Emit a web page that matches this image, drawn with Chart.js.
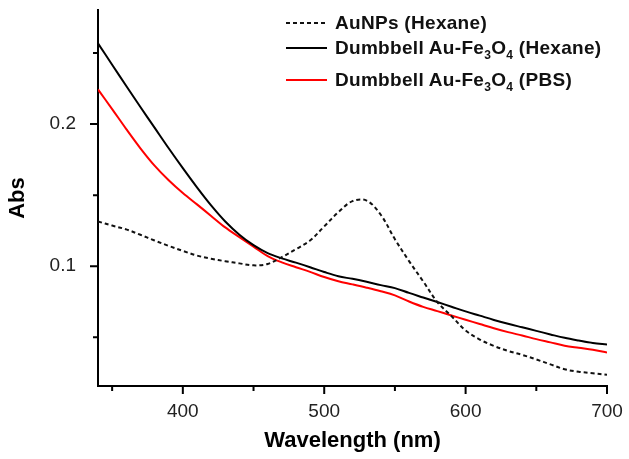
<!DOCTYPE html>
<html>
<head>
<meta charset="utf-8">
<script src="https://cdn.jsdelivr.net/npm/chart.js@4.4.0/dist/chart.umd.min.js"></script>
<style>
  body { margin: 0; background: #fff; }
  #wrap { position: relative; width: 629px; height: 459px; }
  .leg-row {
    position: absolute; left: 286px; height: 24px;
    display: flex; align-items: center;
    font: bold 19px "Liberation Sans", Arial, sans-serif; color: #111;
    letter-spacing: 0.3px; white-space: nowrap;
  }
  .leg-row svg { margin-right: 8px; }
  .leg-row sub { font-size: 12px; vertical-align: -5px; line-height: 0; }
</style>
</head>
<body>
<div id="wrap">
  <canvas id="absChart"></canvas>
  <div id="legend"></div>
</div>
<script>
// UV-vis spectra (nm vs Abs)
const wavelengths = [340, 350, 360, 370, 380, 390, 400, 410, 420, 430, 440, 450, 460, 470, 480, 490, 500, 510,
    520, 530, 540, 550, 560, 570, 580, 590, 600, 610, 620, 630, 640, 650, 660, 670, 680, 690, 700];

const auNPsHexane = [0.1315, 0.1286, 0.1259, 0.1221, 0.1181, 0.1143, 0.1108, 0.1075, 0.1053, 0.1035, 0.1020,
    0.1006, 0.1016, 0.1064, 0.1120, 0.1181, 0.1280, 0.1380, 0.1458, 0.1462, 0.1362, 0.1190, 0.1036, 0.0893,
    0.0748, 0.0649, 0.0548, 0.0484, 0.0439, 0.0404, 0.0376, 0.0344, 0.0309, 0.0275, 0.0257, 0.0247, 0.0236];

const dumbbellHexane = [0.2568, 0.2418, 0.2268, 0.2120, 0.1975, 0.1830, 0.1690, 0.1555, 0.1428, 0.1315, 0.1222,
    0.1148, 0.1092, 0.1055, 0.1025, 0.0993, 0.0959, 0.0929, 0.0911, 0.0890, 0.0867, 0.0846, 0.0812, 0.0780,
    0.0748, 0.0715, 0.0682, 0.0652, 0.0622, 0.0595, 0.0570, 0.0545, 0.0520, 0.0496, 0.0477, 0.0460, 0.0449];

const dumbbellPBS = [0.2244, 0.2106, 0.1965, 0.1830, 0.1708, 0.1605, 0.1515, 0.1435, 0.1354, 0.1273, 0.1205,
    0.1138, 0.1071, 0.1027, 0.0993, 0.0960, 0.0924, 0.0894, 0.0872, 0.0849, 0.0824, 0.0795, 0.0752, 0.0714,
    0.0684, 0.0653, 0.0623, 0.0593, 0.0563, 0.0536, 0.0512, 0.0487, 0.0464, 0.0441, 0.0426, 0.0412, 0.0392];

const seriesNames = ['AuNPs (Hexane)', 'Dumbbell Au-Fe3O4 (Hexane)', 'Dumbbell Au-Fe3O4 (PBS)'];
const legendHtml = ['AuNPs (Hexane)',
    'Dumbbell Au-Fe<sub>3</sub>O<sub>4</sub> (Hexane)',
    'Dumbbell Au-Fe<sub>3</sub>O<sub>4</sub> (PBS)'];

const xTicks = [350, 400, 450, 500, 550, 600, 650, 700];
const xLabels = [400, 500, 600, 700];
const yTicks = [0.05, 0.1, 0.15, 0.2, 0.25];
const yLabels = [0.1, 0.2];

const FONT = '"Liberation Sans", Arial, sans-serif';

// Origin style ticks: long major, short minor, pointing out
const tickMarks = {
    id: 'tickMarks',
    afterDraw(chart) {
        const {ctx, chartArea, scales: {x, y}} = chart;
        ctx.save();
        ctx.strokeStyle = '#000';
        ctx.lineWidth = 2;
        ctx.beginPath();
        x.ticks.forEach(t => {
            const px = x.getPixelForValue(t.value);
            const len = xLabels.includes(t.value) ? 8 : 5;
            ctx.moveTo(px, chartArea.bottom);
            ctx.lineTo(px, chartArea.bottom + len);
        });
        y.ticks.forEach(t => {
            const py = y.getPixelForValue(t.value);
            const len = yLabels.includes(t.value) ? 8 : 5;
            ctx.moveTo(chartArea.left, py);
            ctx.lineTo(chartArea.left - len, py);
        });
        ctx.stroke();
        ctx.restore();
    }
};

const ctx = document.getElementById('absChart').getContext('2d');
const absChart = new Chart(ctx, {
    type: 'line',
    data: {
        labels: wavelengths,
        datasets: [
            {
                label: seriesNames[0],
                data: auNPsHexane,
                borderColor: '#111',
                borderWidth: 2,
                borderDash: [4, 3],
                pointRadius: 0,
                tension: 0.35
            },
            {
                label: seriesNames[1],
                data: dumbbellHexane,
                borderColor: '#000',
                borderWidth: 2,
                pointRadius: 0,
                tension: 0.35
            },
            {
                label: seriesNames[2],
                data: dumbbellPBS,
                borderColor: '#ff0000',
                borderWidth: 2,
                pointRadius: 0,
                tension: 0.35
            }
        ]
    },
    options: {
        responsive: true,
        maintainAspectRatio: false,
        animation: false,
        layout: { padding: { left: 0, top: 10, right: 22, bottom: 0 } },
        scales: {
            x: {
                type: 'linear',
                min: 340,
                max: 700,
                afterBuildTicks: s => { s.ticks = xTicks.map(v => ({ value: v })); },
                afterFit: s => { s.height = 73; s.paddingLeft = 0; s.paddingRight = 0; },
                grid: { display: false },
                border: { display: true, color: '#000', width: 2 },
                ticks: {
                    color: '#222',
                    padding: 6,
                    maxRotation: 0,
                    font: { family: FONT, size: 19 },
                    callback: v => xLabels.includes(v) ? String(v) : ''
                },
                title: {
                    display: true,
                    text: 'Wavelength (nm)',
                    color: '#000',
                    padding: { top: 0, bottom: 5 },
                    font: { family: FONT, size: 22, weight: 'bold' }
                }
            },
            y: {
                min: 0.0157,
                max: 0.2803,
                afterBuildTicks: s => { s.ticks = yTicks.map(v => ({ value: v })); },
                afterFit: s => { s.width = 98; s.paddingTop = 0; s.paddingBottom = 0; },
                grid: { display: false },
                border: { display: true, color: '#000', width: 2 },
                ticks: {
                    color: '#222',
                    padding: 14,
                    font: { family: FONT, size: 19 },
                    callback: v => yLabels.includes(v) ? v.toFixed(1) : ''
                },
                title: {
                    display: true,
                    text: 'Abs',
                    color: '#000',
                    padding: { top: 5, bottom: 0 },
                    font: { family: FONT, size: 22, weight: 'bold' }
                }
            }
        },
        plugins: {
            legend: { display: false },
            tooltip: { enabled: false }
        }
    },
    plugins: [tickMarks]
});

// HTML legend so the subscripts stay real text
const legendRowsY = [11, 35.5, 67.5];
const legendEl = document.getElementById('legend');
absChart.data.datasets.forEach((ds, i) => {
    const row = document.createElement('div');
    row.className = 'leg-row';
    row.style.top = legendRowsY[i] + 'px';
    const dash = ds.borderDash ? ds.borderDash.join(' ') : 'none';
    row.innerHTML = '<svg width="41" height="4"><line x1="0" y1="2" x2="41" y2="2" stroke="' + ds.borderColor +
        '" stroke-width="2" stroke-dasharray="' + dash + '"/></svg><span>' + legendHtml[i] + '</span>';
    legendEl.appendChild(row);
});
</script>
</body>
</html>
